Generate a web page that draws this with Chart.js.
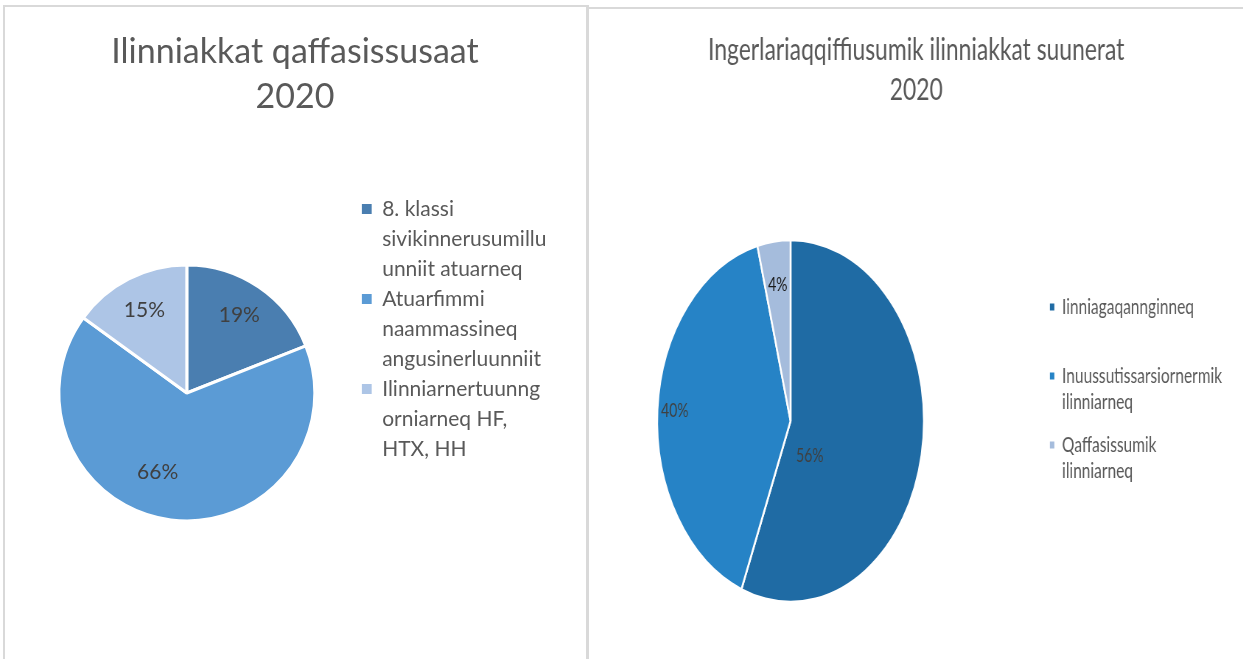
<!DOCTYPE html>
<html>
<head>
<meta charset="utf-8">
<script src="https://cdn.jsdelivr.net/npm/chart.js@4.4.0/dist/chart.umd.min.js"></script>
<style>
html, body { margin: 0; padding: 0; background: #fff; overflow: hidden; }
#wrap { position: relative; width: 1243px; height: 659px; overflow: hidden; background: #fff; }
.line { position: absolute; background: #d9d9d9; z-index: 5; }
#left { position: absolute; left: 5px; top: 8px; }
#right { position: absolute; left: 540px; top: 8px; transform: scaleX(0.737); transform-origin: 0 0; }
</style>
</head>
<body>
<div id="wrap">
  <canvas id="left" width="580" height="651"></canvas>
  <canvas id="right" width="1016" height="651"></canvas>
  <div class="line" style="left:3px;top:5px;width:2px;height:654px"></div>
  <div class="line" style="left:3px;top:5px;width:585px;height:2px"></div>
  <div class="line" style="left:586px;top:5px;width:3px;height:654px"></div>
  <div class="line" style="left:589px;top:7px;width:654px;height:2px"></div>
</div>
<script>
// left chart
var leftTitle = ['Ilinniakkat qaffasissusaat', '2020'];
var leftCategories = [
  ['8. klassi', 'sivikinnerusumillu', 'unniit atuarneq'],
  ['Atuarfimmi', 'naammassineq', 'angusinerluunniit'],
  ['Ilinniarnertuunng', 'orniarneq HF,', 'HTX, HH']
];
var leftValues = [19, 66, 15];

// right chart
var rightTitle = ['Ingerlariaqqiffiusumik ilinniakkat suunerat', '2020'];
var rightCategories = [
  ['Iinniagaqannginneq', ''],
  ['Inuussutissarsiornermik', 'ilinniarneq'],
  ['Qaffasissumik', 'ilinniarneq']
];
var rightValues = [56, 40, 4];

Chart.defaults.font.family = 'Lato';

// legend width = pad + box + size/2 + longest line + 10 (longest by characters, like Chart.js).
// Pad the widest line with no-break spaces so the legend is as wide as wanted,
// that keeps title, pie and legend where they belong.
function widenLegend(items, size, boxW, pad, target) {
  var ctx = document.createElement('canvas').getContext('2d');
  ctx.font = size + 'px Lato';
  var best = -1, bestLine = 0, w = 0;
  items.forEach(function(item, i) {
    var k = 0;
    item.forEach(function(s, j) { if (s.length > item[k].length) k = j; });
    var lw = ctx.measureText(item[k]).width;
    if (lw > w) { w = lw; best = i; bestLine = k; }
  });
  var need = target - (pad + boxW + size / 2 + w + 10);
  var n = Math.max(0, Math.round(need / ctx.measureText('\u00a0').width));
  return items.map(function(item, i) {
    return item.map(function(s, j) {
      return (i === best && j === bestLine) ? s + new Array(n + 1).join('\u00a0') : s;
    });
  });
}

var sliceLabels = {
  id: 'sliceLabels',
  afterDatasetsDraw: function(chart, args, opts) {
    var ctx = chart.ctx;
    var meta = chart.getDatasetMeta(0);
    var values = chart.data.datasets[0].data;
    ctx.save();
    ctx.textAlign = 'center';
    ctx.textBaseline = 'middle';
    meta.data.forEach(function(arc, i) {
      var p = arc.getProps(['x', 'y', 'startAngle', 'endAngle', 'outerRadius'], true);
      var mid = (p.startAngle + p.endAngle) / 2 + opts.shift[i] * Math.PI / 180;
      var r = p.outerRadius * opts.dist[i];
      ctx.font = opts.font;
      ctx.fillStyle = opts.colors[i];
      ctx.fillText(values[i] + '%', p.x + Math.cos(mid) * r, p.y + Math.sin(mid) * r);
    });
    ctx.restore();
  }
};

function makeLabels(chart) {
  var ds = chart.data.datasets[0];
  return chart.data.labels.map(function(t, i) {
    return {
      text: t, fillStyle: ds.backgroundColor[i], strokeStyle: ds.backgroundColor[i],
      lineWidth: 0, hidden: false, index: i, fontColor: '#595959'
    };
  });
}

new Chart(document.getElementById('left'), {
  type: 'pie',
  data: {
    labels: widenLegend(leftCategories, 21, 10, 0, 216),
    datasets: [{
      data: leftValues,
      backgroundColor: ['#4a7eb0', '#5b9bd5', '#adc5e6'],
      borderColor: '#ffffff',
      borderWidth: 3,
      radius: 128
    }]
  },
  options: {
    responsive: false,
    animation: false,
    devicePixelRatio: 1,
    events: [],
    layout: { padding: { left: 7, right: 7, top: 0, bottom: 0 } },
    plugins: {
      title: {
        display: true,
        text: leftTitle,
        color: '#595959',
        font: { size: 34, weight: 'normal', lineHeight: 45 / 34 },
        padding: { top: 21.5, bottom: 7.5 }
      },
      legend: {
        position: 'right',
        align: 'start',
        title: { display: true, text: '', font: { size: 1, lineHeight: 1 }, padding: { top: 189.5, bottom: 0 } },
        labels: {
          boxWidth: 10,
          boxHeight: 10,
          padding: 0,
          color: '#595959',
          font: { size: 21, lineHeight: 30 / 21 },
          generateLabels: makeLabels
        }
      },
      tooltip: { enabled: false },
      sliceLabels: {
        font: '21px Lato',
        colors: ['#404040', '#404040', '#404040'],
        dist: [0.73, 0.66, 0.73],
        shift: [0, 13, 0]
      }
    }
  },
  plugins: [sliceLabels]
});

new Chart(document.getElementById('right'), {
  type: 'pie',
  data: {
    labels: widenLegend(rightCategories, 21, 6, 17, 340),
    datasets: [{
      data: rightValues,
      backgroundColor: ['#1f6ba4', '#2683c6', '#a5bcdc'],
      borderColor: '#ffffff',
      borderWidth: 2.5,
      radius: 181
    }]
  },
  options: {
    responsive: false,
    animation: false,
    devicePixelRatio: 1,
    events: [],
    layout: { padding: { left: 5, right: 0, top: 0, bottom: 0 } },
    plugins: {
      title: {
        display: true,
        text: rightTitle,
        color: '#595959',
        font: { size: 31, weight: 'normal', lineHeight: 40 / 31 },
        padding: { top: 22, bottom: 73 }
      },
      legend: {
        position: 'right',
        align: 'start',
        title: { display: true, text: '', font: { size: 1, lineHeight: 1 }, padding: { top: 270.5, bottom: 0 } },
        labels: {
          boxWidth: 6,
          boxHeight: 7,
          padding: 17,
          color: '#595959',
          font: { size: 21, lineHeight: 26 / 21 },
          generateLabels: makeLabels
        }
      },
      tooltip: { enabled: false },
      sliceLabels: {
        font: '19px Lato',
        colors: ['#404040', '#404040', '#1a1a1a'],
        dist: [0.24, 0.87, 0.76],
        shift: [42, 0, 0]
      }
    }
  },
  plugins: [sliceLabels]
});
</script>
</body>
</html>
